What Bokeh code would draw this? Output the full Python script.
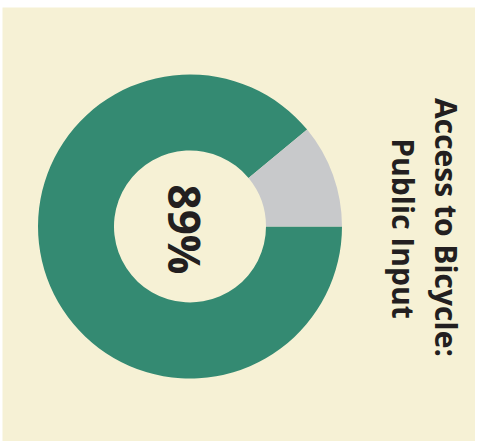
import math
from bokeh.plotting import figure
from bokeh.models import Range1d, ColumnDataSource
from bokeh.core.properties import value
from bokeh.embed import file_html
from bokeh.resources import INLINE

# data
categories = ["Yes", "No"]
shares = [89, 11]
colors = ["#348a72", "#c8c9cb"]
center_label = "89%"
title_lines = ["Access to Bicycle:", "Public Input"]

BG = "#f6f1d5"
W, H = 475, 441
ML, MT = 2, 7
FW, FH = W - ML, H - MT
cx, cy = 187.5, 219  # frame px of donut centre

total = sum(shares)
no_frac = shares[1] / total
starts = [2 * math.pi * no_frac, 0.0]
ends = [2 * math.pi, 2 * math.pi * no_frac]
src = ColumnDataSource(dict(cat=categories, start=starts, end=ends, color=colors))

p = figure(width=W, height=H, output_backend="svg", toolbar_location=None,
           x_range=Range1d(-cx, FW - cx), y_range=Range1d(-(FH - cy), cy),
           min_border_left=ML, min_border_top=MT, min_border_right=0, min_border_bottom=0,
           background_fill_color=BG, border_fill_color="white")
p.axis.visible = False
p.grid.visible = False
p.outline_line_color = None

p.annular_wedge(x=0, y=0, inner_radius=76, outer_radius=152,
                start_angle="start", end_angle="end", color="color",
                line_color=None, source=src)

p.text(x=[-5], y=[-3], text=[center_label], angle=-math.pi / 2,
       text_align="center", text_baseline="middle",
       text_font=value("Open Sans"), text_font_style="bold",
       text_font_size="44px", text_color="#231f20")

p.text(x=[256.5, 213.5], y=[-1, -2], text=title_lines, angle=-math.pi / 2,
       text_align="center", text_baseline="middle",
       text_font=value("Open Sans"), text_font_style="bold",
       text_font_size="30px", text_color="#231f20")

open("out.html", "w").write(file_html(p, INLINE))
